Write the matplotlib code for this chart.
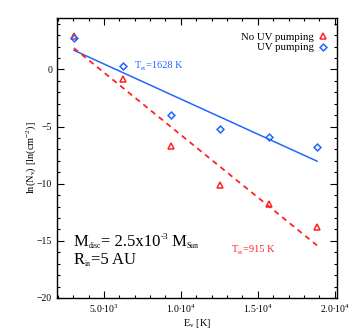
import numpy as np
import matplotlib
matplotlib.use('Agg')
import matplotlib.pyplot as plt
from matplotlib.ticker import MultipleLocator, FixedLocator
from matplotlib.transforms import offset_copy

plt.rcParams['font.family'] = ['Liberation Serif', 'DejaVu Serif']
plt.rcParams['mathtext.fontset'] = 'custom'
plt.rcParams['mathtext.rm'] = 'Liberation Serif'
plt.rcParams['mathtext.it'] = 'Liberation Serif'

# level energies [K] and column densities ln(N_v)
energy = [3050, 6210, 9370, 12530, 15700, 18850]
ln_n_no_uv = [2.95, -0.85, -6.67, -10.1, -11.8, -13.8]
ln_n_uv = [2.75, 0.26, -3.95, -5.24, -5.94, -6.75]

# excitation-temperature fits: ln N = a - E / T_ex
t_ex_no_uv, a_no_uv = 915, 5.20
t_ex_uv, a_uv = 1628, 3.55

xticks = [5000, 10000, 15000, 20000]
xtick_labels = [r'5.0$\bullet$10$^{3}$', r'1.0$\bullet$10$^{4}$',
                r'1.5$\bullet$10$^{4}$', r'2.0$\bullet$10$^{4}$']

RED = '#ff2222'
BLUE = '#2266ff'

fig = plt.figure(figsize=(3.54, 3.34), dpi=100)
ax = fig.add_axes([0.161, 0.108, 0.791, 0.838])
renderer = fig.canvas.get_renderer()


def rich_text(x, y, parts, color='black'):
    # parts: (text, fontsize, vertical shift in points); drawn one after another
    trans = ax.transData
    for s, size, dy in parts:
        t = ax.text(x, y, s, fontsize=size, color=color, va='baseline',
                    transform=offset_copy(trans, fig=fig, x=0, y=dy, units='points'))
        bb = t.get_window_extent(renderer)
        trans = offset_copy(trans, fig=fig, x=bb.width * 72 / fig.dpi, y=0, units='points')


e = np.array(energy)
e_fit = np.linspace(e[0], e[-1], 50)
ax.plot(e_fit, a_uv - e_fit / t_ex_uv, color=BLUE, lw=1.1)
ax.plot(e_fit, a_no_uv - e_fit / t_ex_no_uv, color=RED, lw=1.3, ls=(0, (3, 2.5)))

ax.plot(energy, ln_n_no_uv, ls='none', marker='^', ms=4.5, mfc='none',
        mec=RED, mew=1.1, label='No UV pumping')
ax.plot(energy, ln_n_uv, ls='none', marker='D', ms=3.5, mfc='none',
        mec=BLUE, mew=1.1, label='UV pumping')

rich_text(7000, 0.1, [('T', 7.5, 0), ('ex', 4, -1), ('=1628 K', 7.5, 0)], color=BLUE)
rich_text(13300, -16.0, [('T', 7.5, 0), ('ex', 4, -1), ('=915 K', 7.5, 0)], color=RED)

rich_text(3050, -15.45, [('M', 12, 0), ('disc', 5.5, -1.5), ('= 2.5x10', 12, 0),
                         ('-3', 6.5, 5), (' M', 12, 0), ('Sun', 5.5, -1.5)])
rich_text(3050, -17.05, [('R', 12, 0), ('in', 5.5, -1.5), ('=5 AU', 12, 0)])

ax.set_xlim(1950, 20150)
ax.set_ylim(-20, 4.5)
ax.xaxis.set_major_locator(FixedLocator(xticks))
ax.set_xticklabels(xtick_labels)
ax.xaxis.set_minor_locator(MultipleLocator(1000))
ax.yaxis.set_major_locator(MultipleLocator(5))
ax.yaxis.set_minor_locator(MultipleLocator(1))
ax.tick_params(which='both', direction='in', top=True, right=True, labelsize=7, width=0.8)
ax.tick_params(which='major', length=5)
ax.tick_params(which='minor', length=2.5)
for s in ax.spines.values():
    s.set_linewidth(1.0)

ax.set_xlabel(r'E$_{\rm v}$ [K]', fontsize=7.5, labelpad=1)
ax.set_ylabel(r'ln(N$_{\rm v}$) [ln(cm$^{-2}$)]', fontsize=7.5, labelpad=-0.5)

ax.legend(loc='upper right', bbox_to_anchor=(1.015, 1.0), fontsize=7.8, frameon=False,
          markerfirst=False, handlelength=0.8, handletextpad=0.4, labelspacing=0.1,
          borderaxespad=0.9, numpoints=1)

fig.savefig('out.png', dpi=100)
